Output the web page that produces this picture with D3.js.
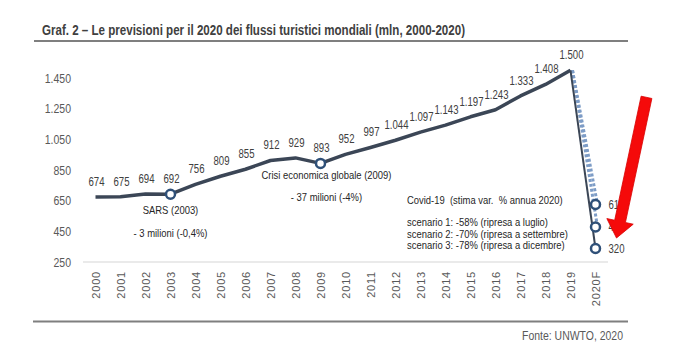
<!DOCTYPE html>
<html lang="it">
<head>
  <meta charset="UTF-8">
  <title>Graf. 2</title>
  <script src="https://d3js.org/d3.v7.min.js"></script>
  <style>
    body { margin: 0; background: #fff; }
    svg { display: block; }
    text { font-family: "Liberation Sans", Arial, sans-serif; }
    .lbl { font-size: 12px; fill: #404040; }
    .note { font-size: 11.5px; fill: #262626; }
    .yaxis text { font-size: 12.5px; fill: #595959; }
    .xaxis text { font-size: 11px; fill: #595959; letter-spacing: 0.8px; }
  </style>
</head>
<body>

<script>
  // data
  const years = ["2000","2001","2002","2003","2004","2005","2006","2007","2008","2009",
                 "2010","2011","2012","2013","2014","2015","2016","2017","2018","2019","2020F"];
  const arrivals = [674, 675, 694, 692, 756, 809, 855, 912, 929, 893,
                    952, 997, 1044, 1097, 1143, 1197, 1243, 1333, 1408, 1500];
  const scenarioValues = [625, 478, 338];
  const scenarioLabels = ["615", "450", "320"];
  const yTicks = [250, 450, 650, 850, 1050, 1250, 1450];
  const eventYears = ["2003", "2009"];

  const W = 675, H = 354;
  const fmt = d3.formatLocale({ decimal: ",", thousands: ".", grouping: [3], currency: ["", "€"] }).format(",");

  // no narrow font installed: squeeze the glyphs horizontally
  function narrow(sel, k) {
    sel.each(function() {
      const w = this.getComputedTextLength();
      d3.select(this).attr("textLength", w * k).attr("lengthAdjust", "spacingAndGlyphs");
    });
  }

  const svg = d3.select("body").append("svg")
    .attr("width", W)
    .attr("height", H);

  const x = d3.scalePoint()
    .domain(years)
    .range([95.5, 595.5]);

  const y = d3.scaleLinear()
    .domain([250, 1450])
    .range([262, 78]);

  // title + rules
  svg.append("text")
    .attr("x", 42).attr("y", 35)
    .attr("textLength", 423).attr("lengthAdjust", "spacingAndGlyphs")
    .style("font-size", "14px").style("font-weight", "bold").style("fill", "#404040")
    .text("Graf. 2 \u2013 Le previsioni per il 2020 dei flussi turistici mondiali (mln, 2000-2020)");

  svg.append("line")
    .attr("x1", 34).attr("x2", 628).attr("y1", 41).attr("y2", 41)
    .attr("stroke", "#7f7f7f").attr("stroke-width", 2);

  svg.append("line")
    .attr("x1", 33).attr("x2", 628).attr("y1", 321.5).attr("y2", 321.5)
    .attr("stroke", "#7f7f7f").attr("stroke-width", 2);

  svg.append("text")
    .attr("x", 623).attr("y", 340)
    .attr("textLength", 101).attr("lengthAdjust", "spacingAndGlyphs")
    .style("text-anchor", "end").style("font-size", "13px").style("fill", "#595959")
    .text("Fonte: UNWTO, 2020");

  // baseline
  svg.append("line")
    .attr("x1", 83).attr("x2", 608)
    .attr("y1", y(250)).attr("y2", y(250))
    .attr("stroke", "#e3e3e3").attr("stroke-width", 1.5);

  // axes
  const yAxis = svg.append("g")
    .attr("class", "yaxis")
    .attr("transform", "translate(74,0)")
    .call(d3.axisLeft(y).tickValues(yTicks).tickSize(0).tickPadding(3).tickFormat(fmt));
  yAxis.select(".domain").remove();
  yAxis.selectAll("text").attr("font-family", null).call(narrow, 0.84);

  const xAxis = svg.append("g")
    .attr("class", "xaxis")
    .attr("transform", "translate(0," + y(250) + ")")
    .call(d3.axisBottom(x).tickSize(0));
  xAxis.select(".domain").remove();
  xAxis.selectAll("text")
    .attr("font-family", null)
    .attr("transform", "rotate(-90)")
    .attr("x", -9)
    .attr("y", 0)
    .attr("dy", "0.35em")
    .style("text-anchor", "end");

  // main series
  const main = arrivals.map((v, i) => ({ year: years[i], value: v }));
  const line = d3.line()
    .x(d => x(d.year))
    .y(d => y(d.value));

  const last = main[main.length - 1];

  // scenario branches
  scenarioValues.slice(0, 2).forEach(v => {
    svg.append("path")
      .datum([last, { year: "2020F", value: v }])
      .attr("fill", "none")
      .attr("stroke", "#7d9cc6")
      .attr("stroke-width", 3)
      .attr("stroke-dasharray", "3,2")
      .attr("transform", "translate(2,0)")
      .attr("d", line);
  });

  svg.append("path")
    .datum([last, { year: "2020F", value: scenarioValues[2] }])
    .attr("fill", "none")
    .attr("stroke", "#3b4656")
    .attr("stroke-width", 2)
    .attr("d", line);

  svg.append("path")
    .datum(main)
    .attr("fill", "none")
    .attr("stroke", "#3b4656")
    .attr("stroke-width", 3.5)
    .attr("stroke-linejoin", "round")
    .attr("d", line);

  // value labels
  svg.selectAll(".val")
    .data(main)
    .enter().append("text")
    .attr("class", "val lbl")
    .attr("x", d => x(d.year) + 1)
    .attr("y", d => y(d.value) - 11)
    .style("text-anchor", "middle")
    .text(d => fmt(d.value))
    .call(narrow, 0.8);

  // scenario labels (partly hidden behind the arrow)
  svg.selectAll(".slbl")
    .data(scenarioValues)
    .enter().append("text")
    .attr("class", "slbl lbl")
    .attr("x", x("2020F") + 13)
    .attr("y", d => y(d) + 4)
    .text((d, i) => scenarioLabels[i])
    .call(narrow, 0.8);

  // markers
  const markers = eventYears.map(yr => ({ year: yr, value: arrivals[years.indexOf(yr)] }))
    .concat(scenarioValues.map(v => ({ year: "2020F", value: v })));

  svg.selectAll(".mk")
    .data(markers)
    .enter().append("circle")
    .attr("class", "mk")
    .attr("cx", d => x(d.year))
    .attr("cy", d => y(d.value))
    .attr("r", 4.5)
    .attr("fill", "#fff")
    .attr("stroke", "#2f5078")
    .attr("stroke-width", 2.5);

  // annotations
  const xs = x("2003"), xc = x("2009") + 6;
  const notes = [
    { x: xs, y: 214, t: "SARS (2003)", a: "middle" },
    { x: xs, y: 237, t: "- 3 milioni (-0,4%)", a: "middle" },
    { x: xc, y: 179, t: "Crisi economica globale (2009)", a: "middle" },
    { x: xc, y: 201, t: "- 37 milioni (-4%)", a: "middle" },
    { x: 407, y: 204, t: "Covid-19  (stima var.  % annua 2020)", a: "start" },
    { x: 407, y: 226, t: "scenario 1: -58% (ripresa a luglio)", a: "start" },
    { x: 407, y: 237.5, t: "scenario 2: -70% (ripresa a settembre)", a: "start" },
    { x: 407, y: 249, t: "scenario 3: -78% (ripresa a dicembre)", a: "start" }
  ];
  svg.selectAll(".note")
    .data(notes)
    .enter().append("text")
    .attr("class", "note")
    .attr("x", d => d.x)
    .attr("y", d => d.y)
    .style("text-anchor", d => d.a)
    .style("white-space", "pre")
    .text(d => d.t)
    .call(narrow, 0.82);

  // red arrow
  const tail = [x("2020F") + 51, y(1350) + 4];
  const tip = [x("2020F") + 21, y(250) - 24];
  const dx = tip[0] - tail[0], dy = tip[1] - tail[1];
  const len = Math.hypot(dx, dy);
  const ux = dx / len, uy = dy / len, px = -uy, py = ux;
  const sw = 5.5, hw = 13.5, hl = 17;
  const bx = tip[0] - ux * hl, by = tip[1] - uy * hl;
  const pts = [
    [tail[0] + px * sw, tail[1] + py * sw],
    [bx + px * sw, by + py * sw],
    [bx + px * hw, by + py * hw],
    tip,
    [bx - px * hw, by - py * hw],
    [bx - px * sw, by - py * sw],
    [tail[0] - px * sw, tail[1] - py * sw]
  ];
  svg.append("polygon")
    .attr("points", pts.map(p => p.join(",")).join(" "))
    .attr("fill", "#f50a0a")
    .attr("stroke", "#d80000")
    .attr("stroke-width", 0.8);
</script>

</body>
</html>
